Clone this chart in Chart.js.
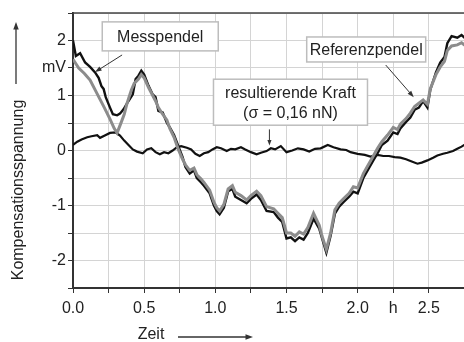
<!DOCTYPE html>
<html>
<head>
<meta charset="utf-8">
<script src="https://cdn.jsdelivr.net/npm/chart.js@4"></script>
<style>
  html, body { margin: 0; padding: 0; background: #fff; overflow: hidden; }
  #wrap { width: 520px; height: 342px; }
</style>
</head>
<body>
<div id="wrap"><canvas id="myChart" width="520" height="342"></canvas></div>
<script>
// Messpendel (black)
const messT = [0,0.02,0.05,0.085,0.12,0.155,0.18,0.2,0.215,0.23,0.26,0.28,0.31,0.33,0.355,0.39,0.42,0.44,0.46,0.48,0.5,0.53,0.56,0.58,0.6,0.63,0.66,0.68,0.71,0.74,0.77,0.79,0.82,0.85,0.87,0.9,0.92,0.96,0.99,1.01,1.03,1.06,1.09,1.12,1.14,1.18,1.22,1.25,1.29,1.32,1.36,1.41,1.44,1.47,1.5,1.53,1.56,1.59,1.62,1.65,1.69,1.73,1.75,1.78,1.81,1.84,1.87,1.9,1.94,1.97,2.0,2.04,2.07,2.11,2.14,2.17,2.21,2.25,2.28,2.3,2.34,2.37,2.4,2.43,2.46,2.49,2.51,2.55,2.58,2.61,2.63,2.66,2.7,2.73,2.76,2.8];
const messV = [2.0,1.72,1.77,1.6,1.52,1.42,1.32,1.17,1.12,0.97,0.78,0.66,0.64,0.67,0.75,0.9,1.02,1.3,1.36,1.45,1.38,1.18,1.02,0.97,0.72,0.69,0.5,0.42,0.28,0.08,-0.12,-0.3,-0.42,-0.36,-0.5,-0.58,-0.64,-0.78,-1.0,-1.1,-1.16,-1.04,-0.74,-0.7,-0.84,-0.9,-0.96,-0.88,-0.8,-0.9,-1.1,-1.12,-1.22,-1.3,-1.6,-1.58,-1.65,-1.58,-1.62,-1.5,-1.24,-1.42,-1.6,-1.86,-1.55,-1.15,-1.02,-0.94,-0.84,-0.75,-0.78,-0.5,-0.36,-0.18,-0.05,0.1,0.18,0.33,0.3,0.4,0.52,0.6,0.74,0.78,0.9,0.78,1.1,1.42,1.6,1.7,1.95,2.08,2.05,2.1,2.03,2.0];

// Referenzpendel (grey)
const refT = [0,0.04,0.08,0.12,0.16,0.19,0.22,0.26,0.29,0.31,0.34,0.36,0.38,0.41,0.43,0.46,0.48,0.5,0.53,0.56,0.58,0.6,0.63,0.66,0.68,0.71,0.74,0.77,0.79,0.82,0.85,0.87,0.9,0.92,0.96,0.99,1.01,1.03,1.06,1.09,1.12,1.14,1.18,1.22,1.25,1.29,1.32,1.36,1.41,1.44,1.47,1.5,1.53,1.56,1.59,1.62,1.65,1.69,1.73,1.75,1.78,1.81,1.84,1.87,1.9,1.94,1.97,2.0,2.04,2.07,2.11,2.14,2.17,2.21,2.25,2.28,2.3,2.34,2.37,2.4,2.43,2.46,2.49,2.51,2.55,2.58,2.61,2.63,2.66,2.7,2.73,2.76,2.8];
const refV = [1.66,1.5,1.4,1.28,1.08,0.93,0.78,0.57,0.4,0.32,0.52,0.66,0.86,1.1,1.22,1.3,1.38,1.32,1.15,1.0,0.9,0.78,0.66,0.55,0.4,0.24,0.02,-0.16,-0.26,-0.36,-0.32,-0.44,-0.52,-0.58,-0.72,-0.94,-1.04,-1.1,-0.98,-0.7,-0.64,-0.76,-0.82,-0.9,-0.82,-0.74,-0.82,-1.02,-1.06,-1.14,-1.22,-1.5,-1.5,-1.56,-1.48,-1.52,-1.4,-1.14,-1.36,-1.56,-1.8,-1.5,-1.08,-0.96,-0.88,-0.78,-0.66,-0.68,-0.42,-0.28,-0.1,0.04,0.16,0.28,0.42,0.38,0.48,0.58,0.68,0.8,0.86,0.92,0.84,1.12,1.38,1.52,1.62,1.82,1.9,1.92,1.96,1.9,1.9];

// resultierende Kraft (black, near zero)
const kraftT = [0,0.03,0.06,0.1,0.13,0.17,0.19,0.22,0.26,0.3,0.33,0.36,0.39,0.42,0.45,0.49,0.52,0.55,0.58,0.61,0.64,0.67,0.7,0.73,0.76,0.8,0.83,0.86,0.89,0.92,0.95,0.98,1.01,1.04,1.08,1.11,1.14,1.18,1.21,1.25,1.29,1.32,1.36,1.39,1.42,1.46,1.5,1.54,1.58,1.62,1.66,1.7,1.74,1.79,1.83,1.88,1.92,1.95,2.0,2.05,2.09,2.14,2.18,2.22,2.26,2.3,2.34,2.38,2.42,2.45,2.49,2.53,2.56,2.6,2.63,2.67,2.7,2.73,2.76,2.8];
const kraftV = [0.1,0.16,0.2,0.24,0.26,0.28,0.23,0.27,0.32,0.33,0.27,0.18,0.1,0.02,-0.02,-0.05,0.02,0.04,-0.03,-0.07,-0.03,-0.05,0.0,0.06,0.08,0.05,0.02,-0.06,-0.1,-0.05,-0.03,0.02,0.06,0.04,-0.01,0.03,0.02,0.06,0.02,-0.03,-0.07,-0.04,-0.01,0.04,0.02,0.08,-0.03,0.0,0.04,0.02,-0.02,0.03,0.04,0.1,0.06,0.02,0.01,-0.03,-0.06,-0.08,-0.11,-0.08,-0.1,-0.1,-0.12,-0.13,-0.16,-0.2,-0.24,-0.22,-0.18,-0.13,-0.09,-0.06,-0.04,-0.01,0.03,0.07,0.12,0.16];

const toPts = (ts, vs) => ts.map((t, i) => ({ x: t, y: vs[i] }));

const FONT = 'Liberation Sans, Arial, sans-serif';
const TXT = '#222';

function arrow(ctx, x1, y1, x2, y2, head) {
  const a = Math.atan2(y2 - y1, x2 - x1);
  ctx.beginPath();
  ctx.moveTo(x1, y1);
  ctx.lineTo(x2 - Math.cos(a) * head * 0.6, y2 - Math.sin(a) * head * 0.6);
  ctx.stroke();
  ctx.beginPath();
  ctx.moveTo(x2, y2);
  ctx.lineTo(x2 - head * Math.cos(a - 0.35), y2 - head * Math.sin(a - 0.35));
  ctx.lineTo(x2 - head * Math.cos(a + 0.35), y2 - head * Math.sin(a + 0.35));
  ctx.closePath();
  ctx.fill();
}

const extras = {
  id: 'extras',
  afterDraw(chart) {
    const ctx = chart.ctx;
    const xs = chart.scales.x, ys = chart.scales.y;
    const P = (t, v) => [xs.getPixelForValue(t), ys.getPixelForValue(v)];
    const area = chart.chartArea;
    ctx.save();

    // top frame line
    ctx.strokeStyle = '#444';
    ctx.lineWidth = 1.5;
    ctx.beginPath();
    ctx.moveTo(area.left, area.top);
    ctx.lineTo(area.right, area.top);
    ctx.stroke();

    // label boxes
    function box(t, v, w, h, lines) {
      const [cx, cy] = P(t, v);
      ctx.fillStyle = '#fff';
      ctx.fillRect(cx - w / 2, cy - h / 2, w, h);
      ctx.strokeStyle = '#bdbdbd';
      ctx.lineWidth = 1.5;
      ctx.strokeRect(cx - w / 2, cy - h / 2, w, h);
      ctx.fillStyle = TXT;
      ctx.font = '16px ' + FONT;
      ctx.textAlign = 'center';
      ctx.textBaseline = 'middle';
      const lh = 20;
      lines.forEach((s, i) => {
        ctx.fillText(s, cx, cy + (i - (lines.length - 1) / 2) * lh + 1);
      });
    }
    box(0.613, 2.075, 116, 29, ['Messpendel']);
    box(1.528, 0.878, 154, 46, ['resultierende Kraft', '(\u03c3 = 0,16 nN)']);
    box(2.06, 1.837, 119, 25, ['Referenzpendel']);

    // pointer arrows
    ctx.strokeStyle = '#333';
    ctx.fillStyle = '#333';
    ctx.lineWidth = 1;
    let a = P(0.345, 1.737), b = P(0.155, 1.426);
    arrow(ctx, a[0], a[1], b[0], b[1], 7);
    a = P(1.38, 0.384); b = P(1.38, 0.09);
    arrow(ctx, a[0], a[1], b[0], b[1], 6);
    a = P(2.197, 1.554); b = P(2.394, 0.969);
    arrow(ctx, a[0], a[1], b[0], b[1], 7);

    // axis titles with arrows
    ctx.fillStyle = TXT;
    ctx.font = '16px ' + FONT;
    ctx.textAlign = 'center';
    ctx.textBaseline = 'middle';
    ctx.save();
    ctx.translate(19, 190);
    ctx.rotate(-Math.PI / 2);
    ctx.fillText('Kompensationsspannung', 0, 0);
    ctx.restore();
    ctx.fillText('Zeit', 151, 335);

    ctx.strokeStyle = '#333';
    ctx.fillStyle = '#333';
    ctx.lineWidth = 1.3;
    arrow(ctx, 16, 84, 16, 22, 8);
    arrow(ctx, 178, 337, 253, 337, 8);
    ctx.restore();
  }
};

const ctx = document.getElementById('myChart').getContext('2d');
new Chart(ctx, {
  type: 'line',
  data: {
    datasets: [
      { label: 'Referenzpendel', data: toPts(refT, refV), borderColor: '#8c8c8c', borderWidth: 3, pointRadius: 0, tension: 0 },
      { label: 'Messpendel', data: toPts(messT, messV), borderColor: '#111', borderWidth: 2.4, pointRadius: 0, tension: 0 },
      { label: 'resultierende Kraft', data: toPts(kraftT, kraftV), borderColor: '#111', borderWidth: 2.2, pointRadius: 0, tension: 0 }
    ]
  },
  options: {
    responsive: false,
    animation: false,
    layout: { padding: { left: 0, right: 20, top: 13, bottom: 0 } },
    plugins: { legend: { display: false }, tooltip: { enabled: false } },
    scales: {
      x: {
        type: 'linear',
        min: 0, max: 3,
        afterFit: s => { s.height = 54; },
        grid: { color: '#d4d4d4', lineWidth: 1, tickLength: 5, tickColor: '#333' },
        border: { color: '#333', width: 2 },
        ticks: {
          stepSize: 0.25, autoSkip: false, maxRotation: 0, padding: 6,
          color: TXT, font: { family: FONT, size: 16 },
          callback: v => {
            if (Math.abs(v - 2.25) < 1e-6) return 'h';
            return Math.abs(v * 2 - Math.round(v * 2)) < 1e-6 ? v.toFixed(1) : '';
          }
        }
      },
      y: {
        type: 'linear',
        min: -2.5, max: 2.5,
        afterFit: s => { s.width = 73; },
        grid: { color: '#d4d4d4', lineWidth: 1, tickLength: 5, tickColor: '#333' },
        border: { color: '#333', width: 2 },
        ticks: {
          stepSize: 0.5, autoSkip: false, padding: 2,
          color: TXT, font: { family: FONT, size: 16 },
          callback: v => {
            if (Math.abs(v - 1.5) < 1e-6) return 'mV';
            return Number.isInteger(v) ? String(v) : '';
          }
        }
      }
    }
  },
  plugins: [extras]
});
</script>
</body>
</html>
